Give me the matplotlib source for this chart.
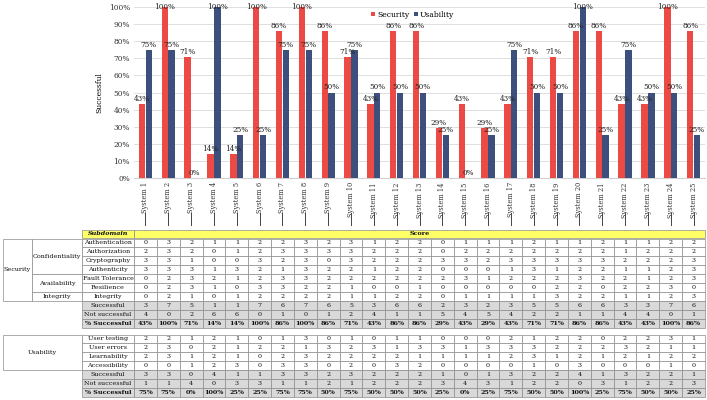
import matplotlib
matplotlib.use('Agg')
import matplotlib.pyplot as plt
from matplotlib.patches import Rectangle
import matplotlib.transforms as mtransforms

plt.rcParams['font.family'] = ['DejaVu Serif']

systems = ['System %d' % i for i in range(1, 26)]

sec_rows = ['Authentication', 'Authorization', 'Cryptography', 'Authenticity',
            'Fault Tolerance', 'Resilience', 'Integrity']
sec_scores = [
    [0, 3, 2, 1, 1, 2, 2, 3, 2, 3, 1, 2, 2, 0, 1, 1, 1, 2, 1, 1, 2, 1, 1, 2, 2],
    [2, 3, 2, 0, 1, 2, 3, 3, 3, 3, 2, 2, 2, 0, 2, 2, 2, 2, 2, 2, 2, 1, 2, 2, 2],
    [3, 3, 1, 0, 0, 3, 2, 3, 0, 3, 2, 2, 2, 3, 3, 2, 3, 3, 3, 3, 3, 2, 2, 2, 3],
    [3, 3, 3, 1, 3, 2, 1, 3, 2, 2, 1, 2, 2, 0, 0, 0, 1, 3, 1, 2, 2, 1, 1, 2, 3],
    [0, 2, 3, 2, 1, 2, 3, 3, 2, 2, 2, 2, 2, 2, 3, 1, 2, 2, 2, 3, 2, 2, 1, 2, 3],
    [0, 2, 3, 1, 0, 3, 3, 2, 2, 1, 0, 0, 1, 0, 0, 0, 0, 0, 2, 2, 0, 2, 2, 3, 0],
    [0, 2, 1, 0, 1, 2, 2, 2, 2, 1, 1, 2, 2, 0, 1, 1, 1, 1, 3, 2, 2, 1, 1, 2, 3],
]
sec_ok = [3, 7, 5, 1, 1, 7, 6, 7, 6, 5, 3, 6, 6, 2, 3, 2, 3, 5, 5, 6, 6, 3, 3, 7, 6]
sec_not = [4, 0, 2, 6, 6, 0, 1, 0, 1, 2, 4, 1, 1, 5, 4, 5, 4, 2, 2, 1, 1, 4, 4, 0, 1]
sec_pct = [43, 100, 71, 14, 14, 100, 86, 100, 86, 71, 43, 86, 86, 29, 43, 29, 43, 71, 71,
           86, 86, 43, 43, 100, 86]

usa_rows = ['User testing', 'User errors', 'Learnability', 'Accessibility']
usa_scores = [
    [2, 2, 1, 2, 1, 0, 1, 3, 0, 1, 0, 1, 1, 0, 0, 0, 2, 1, 2, 2, 0, 2, 2, 3, 1],
    [2, 3, 0, 2, 1, 2, 2, 1, 3, 2, 3, 1, 3, 3, 1, 3, 3, 3, 2, 2, 2, 3, 2, 1, 1],
    [2, 3, 1, 2, 1, 0, 2, 3, 2, 2, 2, 2, 1, 1, 1, 1, 2, 3, 1, 2, 1, 2, 1, 2, 2],
    [0, 0, 1, 2, 3, 0, 3, 3, 0, 2, 0, 3, 2, 0, 0, 0, 0, 1, 0, 3, 0, 0, 0, 1, 0],
]
usa_ok = [3, 3, 0, 4, 1, 1, 3, 3, 2, 3, 2, 2, 2, 1, 0, 1, 3, 2, 2, 4, 1, 3, 2, 2, 1]
usa_not = [1, 1, 4, 0, 3, 3, 1, 1, 2, 1, 2, 2, 2, 3, 4, 3, 1, 2, 2, 0, 3, 1, 2, 2, 3]
usa_pct = [75, 75, 0, 100, 25, 25, 75, 75, 50, 75, 50, 50, 50, 25, 0, 25, 75, 50, 50,
           100, 25, 75, 50, 50, 25]

RED = '#EC4B45'
BLUE = '#3D4F7C'

W, H = 707, 400
fig = plt.figure(figsize=(7.07, 4.0), dpi=100)

# table layer in pixel coordinates
tab = fig.add_axes([0, 0, 1, 1])
tab.set_xlim(0, W)
tab.set_ylim(H, 0)
tab.axis('off')

X0, X1 = 134, 705
ax = fig.add_axes([X0 / W, 1 - 178 / H, (X1 - X0) / W, (178 - 7) / H])
n = len(systems)
xs = list(range(n))
bw = 0.28
b1 = ax.bar([x - 0.15 for x in xs], sec_pct, bw, color=RED, label='Security', zorder=3)
b2 = ax.bar([x + 0.15 for x in xs], usa_pct, bw, color=BLUE, label='Usability', zorder=3)
for bars, vals in ((b1, sec_pct), (b2, usa_pct)):
    for r, v in zip(bars, vals):
        cx = r.get_x() + r.get_width() / 2
        if v >= 100:
            ax.text(cx, v, '%d%%' % v, ha='center', va='center',
                    fontsize=5.2, color='#222222', zorder=4)
        else:
            ax.text(cx, v + 0.6, '%d%%' % v, ha='center', va='bottom',
                    fontsize=5.2, color='#222222', zorder=4)
ax.set_xlim(-0.5, n - 0.5)
ax.set_ylim(0, 100)
ax.set_yticks(range(0, 101, 10))
ax.set_yticklabels(['%d%%' % v for v in range(0, 101, 10)], fontsize=5.3)
ax.set_xticks(xs)
ax.set_xticklabels(systems, rotation=90, fontsize=4.8)
ax.tick_params(axis='both', length=0, pad=3, colors='#333333')
ax.grid(axis='y', color='#d9d9d9', lw=0.6, zorder=0)
for s in ('top', 'right', 'left'):
    ax.spines[s].set_visible(False)
ax.spines['bottom'].set_color('#d0d0d0')
ax.set_ylabel('Successful', fontsize=5.5, labelpad=4)
ax.legend(loc='center left', bbox_to_anchor=(0.415, 0.955), ncol=2, frameon=False, fontsize=5.5,
          handlelength=0.5, handleheight=0.5, columnspacing=0.6, handletextpad=0.3,
          borderpad=0, borderaxespad=0)
trans = mtransforms.blended_transform_factory(ax.transData, ax.transAxes)
for x in xs:
    ax.plot([x, x], [-0.205, -0.275], color='#444444', lw=0.7, transform=trans, clip_on=False)

# table
cw = (X1 - X0) / n
rh = 8.9
EDGE = '#8c8c8c'
GRAY = '#d9d9d9'
YEL = '#ffff66'
FS = 4.6


def cell(x, y, w, h, txt='', fc='white', bold=False, fs=FS, italic=False):
    tab.add_patch(Rectangle((x, y), w, h, facecolor=fc, edgecolor=EDGE, lw=0.5))
    if txt != '':
        tab.text(x + w / 2, y + h / 2, txt, ha='center', va='center', fontsize=fs,
                 fontweight='bold' if bold else 'normal',
                 fontstyle='italic' if italic else 'normal', color='#111111')


def rows(y0, labels, data, shaded):
    for i, (lab, vals) in enumerate(zip(labels, data)):
        y = y0 + i * rh
        fc = GRAY if i in shaded else 'white'
        bold = lab == '% Successful'
        cell(82, y, X0 - 82, rh, lab, fc, bold)
        for j, v in enumerate(vals):
            cell(X0 + j * cw, y, cw, rh, v, fc, bold)


cell(82, 229.5, X0 - 82, rh, 'Subdomain', YEL, bold=True, italic=True)
cell(X0, 229.5, X1 - X0, rh, 'Score', YEL, bold=True)

ys = 238.5
sec_labels = sec_rows + ['Successful', 'Not successful', '% Successful']
sec_data = [[str(v) for v in r] for r in sec_scores] + \
    [[str(v) for v in sec_ok], [str(v) for v in sec_not], ['%d%%' % v for v in sec_pct]]
rows(ys, sec_labels, sec_data, (7, 8, 9))
cell(3, ys, 29, 7 * rh, 'Security')
cell(32, ys, 50, 4 * rh, 'Confidentiality')
cell(32, ys + 4 * rh, 50, 2 * rh, 'Availability')
cell(32, ys + 6 * rh, 50, rh, 'Integrity')

yu = 334.5
usa_labels = usa_rows + ['Successful', 'Not successful', '% Successful']
usa_data = [[str(v) for v in r] for r in usa_scores] + \
    [[str(v) for v in usa_ok], [str(v) for v in usa_not], ['%d%%' % v for v in usa_pct]]
rows(yu, usa_labels, usa_data, (4, 5, 6))
cell(3, yu, 79, 4 * rh, 'Usability')

fig.savefig('out.png', dpi=100)
